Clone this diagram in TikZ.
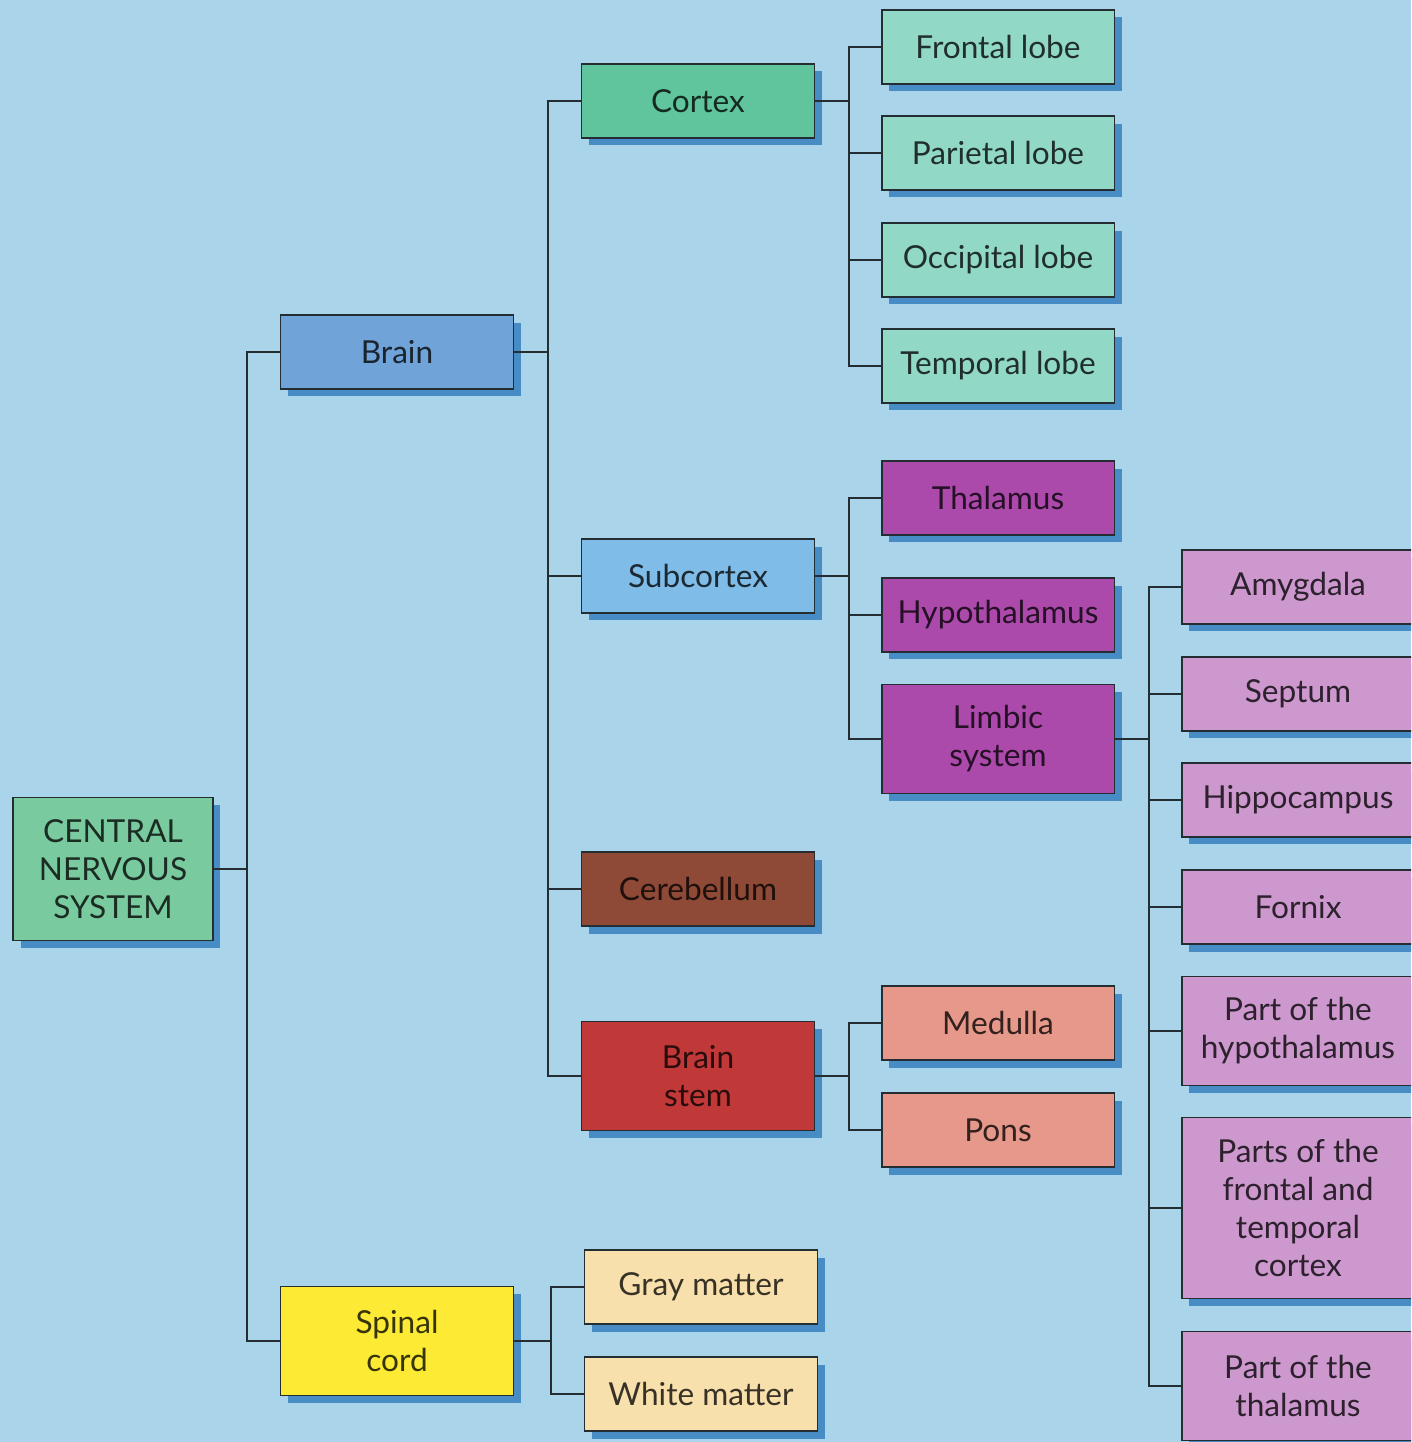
\documentclass[tikz,border=0pt]{standalone}
\usepackage{fontspec}
\setmainfont{Lato}
\usetikzlibrary{shadows}

\definecolor{bgblue}{RGB}{170,212,234}
\definecolor{shadowblue}{RGB}{72,140,198}
\definecolor{linedark}{RGB}{35,45,50}
\definecolor{cnsgreen}{RGB}{122,202,160}
\definecolor{cortexgreen}{RGB}{96,196,156}
\definecolor{lobeaqua}{RGB}{146,216,198}
\definecolor{brainblue}{RGB}{112,164,216}
\definecolor{subblue}{RGB}{128,188,232}
\definecolor{cerebbrown}{RGB}{142,74,54}
\definecolor{stemred}{RGB}{192,56,56}
\definecolor{thalpurple}{RGB}{172,74,172}
\definecolor{limbicpink}{RGB}{204,152,206}
\definecolor{medsalmon}{RGB}{230,152,138}
\definecolor{spineyellow}{RGB}{252,234,52}
\definecolor{mattertan}{RGB}{248,224,172}

\begin{document}
\begin{tikzpicture}[x=0.02cm,y=-0.02cm,
  box/.style={draw=linedark, line width=1.1pt, fill=#1, text=#1!22!black,
    minimum width=4.66cm, minimum height=1.48cm, align=center, inner sep=0pt,
    font=\fontsize{18}{21.6}\selectfont,
    drop shadow={shadow xshift=0.15cm, shadow yshift=-0.15cm, fill=shadowblue, opacity=1}},
  tall/.style={minimum height=2.18cm},
  link/.style={draw=linedark, line width=1.1pt}]

\useasboundingbox (0,0) rectangle (1411,1442);
\clip (0,0) rectangle (1411,1442);
\fill[bgblue] (0,0) rectangle (1411,1442);

% first level
\node[box=cnsgreen, minimum width=4cm, minimum height=2.86cm] (cns) at (113,869) {CENTRAL\\NERVOUS\\SYSTEM};
\node[box=brainblue] (brain) at (397,352) {Brain};
\node[box=spineyellow, tall] (spinal) at (397,1341) {Spinal\\cord};

% brain parts
\node[box=cortexgreen] (cortex) at (698,101) {Cortex};
\node[box=subblue] (subcortex) at (698,576) {Subcortex};
\node[box=cerebbrown] (cerebellum) at (698,889) {Cerebellum};
\node[box=stemred, tall] (stem) at (698,1076) {Brain\\stem};

% lobes
\node[box=lobeaqua] (frontal) at (998,47) {Frontal lobe};
\node[box=lobeaqua] (parietal) at (998,153) {Parietal lobe};
\node[box=lobeaqua] (occipital) at (998,260) {Occipital lobe};
\node[box=lobeaqua] (temporal) at (998,366) {Temporal lobe};

% subcortex
\node[box=thalpurple] (thalamus) at (998,498) {Thalamus};
\node[box=thalpurple] (hypothal) at (998,615) {Hypothalamus};
\node[box=thalpurple, tall] (limbic) at (998,739) {Limbic\\system};

% brain stem
\node[box=medsalmon] (medulla) at (998,1023) {Medulla};
\node[box=medsalmon] (pons) at (998,1130) {Pons};

% spinal cord
\node[box=mattertan] (gray) at (701,1287) {Gray matter};
\node[box=mattertan] (white) at (701,1394) {White matter};

% limbic system
\node[box=limbicpink] (amygdala) at (1298,587) {Amygdala};
\node[box=limbicpink] (septum) at (1298,694) {Septum};
\node[box=limbicpink] (hippo) at (1298,800) {Hippocampus};
\node[box=limbicpink] (fornix) at (1298,907) {Fornix};
\node[box=limbicpink, tall] (parthypo) at (1298,1031) {Part of the\\hypothalamus};
\node[box=limbicpink, minimum height=3.62cm] (partcortex) at (1298,1208) {Parts of the\\frontal and\\temporal\\cortex};
\node[box=limbicpink, tall] (partthal) at (1298,1386) {Part of the\\thalamus};

% connectors
\foreach \c in {brain,spinal}
  \draw[link] (cns.east) -- ++(33,0) |- (\c.west);
\foreach \c in {cortex,subcortex,cerebellum,stem}
  \draw[link] (brain.east) -- ++(34,0) |- (\c.west);
\foreach \c in {frontal,parietal,occipital,temporal}
  \draw[link] (cortex.east) -- ++(34,0) |- (\c.west);
\foreach \c in {thalamus,hypothal,limbic}
  \draw[link] (subcortex.east) -- ++(34,0) |- (\c.west);
\foreach \c in {medulla,pons}
  \draw[link] (stem.east) -- ++(34,0) |- (\c.west);
\foreach \c in {gray,white}
  \draw[link] (spinal.east) -- ++(37,0) |- (\c.west);
\foreach \c in {amygdala,septum,hippo,fornix,parthypo,partcortex,partthal}
  \draw[link] (limbic.east) -- ++(34,0) |- (\c.west);
\end{tikzpicture}
\end{document}
